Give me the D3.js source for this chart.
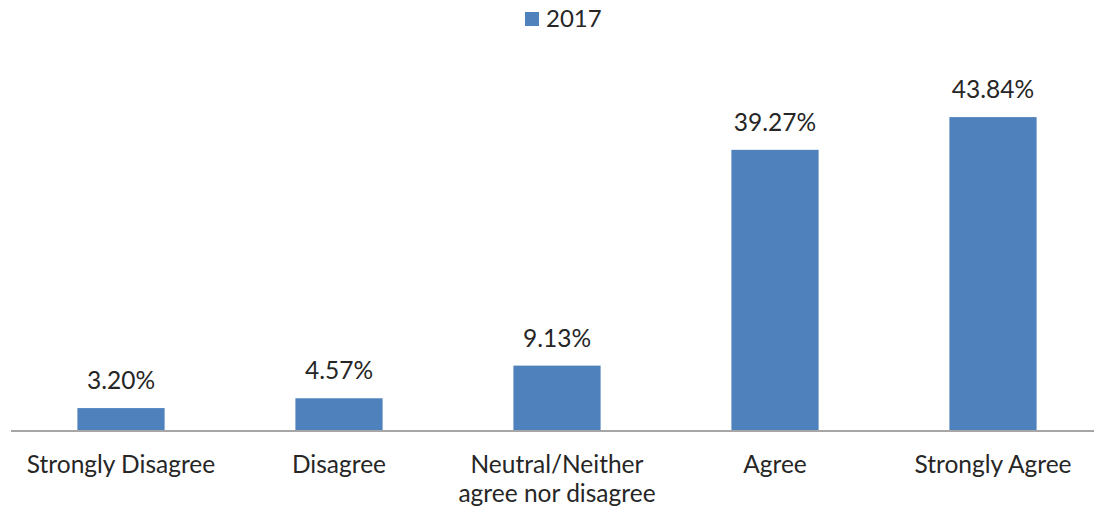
<!DOCTYPE html>
<html><head><meta charset="utf-8">
<script src="https://cdn.jsdelivr.net/npm/d3@7"></script>
<style>body{margin:0;background:#fff}svg{display:block}</style>
</head><body>
<svg id="c" width="1094" height="512"></svg>
<script>
const categories = ["Strongly Disagree", "Disagree", "Neutral/Neither agree nor disagree", "Agree", "Strongly Agree"];
const categoryLines = [["Strongly Disagree"], ["Disagree"], ["Neutral/Neither", "agree nor disagree"], ["Agree"], ["Strongly Agree"]];
const values2017 = [3.20, 4.57, 9.13, 39.27, 43.84];
const seriesName = "2017";

const svg = d3.select("#c");
const font = "Lato, 'Open Sans', sans-serif";
const color = "#4f81bd";
const x = d3.scaleBand().domain(categories).range([12, 1102]).paddingInner(0.6).paddingOuter(0.3);
const y = d3.scaleLinear().domain([0, 50]).range([431, 73]);

svg.selectAll("rect.bar").data(values2017).join("rect")
  .attr("class", "bar")
  .attr("x", (d, i) => x(categories[i]))
  .attr("width", x.bandwidth())
  .attr("y", d => y(d))
  .attr("height", d => y(0) - y(d))
  .attr("fill", color);

svg.append("line").attr("x1", 11).attr("x2", 1102).attr("y1", y(0)).attr("y2", y(0))
  .attr("stroke", "#a6a6a6").attr("stroke-width", 2);

svg.selectAll("text.val").data(values2017).join("text")
  .attr("class", "val")
  .attr("x", (d, i) => x(categories[i]) + x.bandwidth() / 2)
  .attr("y", d => y(d) - 19)
  .attr("text-anchor", "middle")
  .attr("font-family", font).attr("font-size", 24.5).attr("fill", "#262626")
  .text(d => d.toFixed(2) + "%");

const lab = svg.selectAll("text.cat").data(categoryLines).join("text")
  .attr("class", "cat")
  .attr("text-anchor", "middle")
  .attr("font-family", font).attr("font-size", 24.5).attr("fill", "#262626")
  .attr("transform", (d, i) => `translate(${x(categories[i]) + x.bandwidth() / 2},473)`);
lab.selectAll("tspan").data(d => d).join("tspan")
  .attr("x", 0).attr("y", (d, j) => j * 29).text(d => d);

const lg = svg.append("g");
lg.append("rect").attr("x", 525).attr("y", 12).attr("width", 14).attr("height", 14).attr("fill", color);
lg.append("text").attr("x", 546).attr("y", 27).attr("font-family", font).attr("font-size", 24)
  .attr("fill", "#262626").text(seriesName);
</script>
</body></html>
